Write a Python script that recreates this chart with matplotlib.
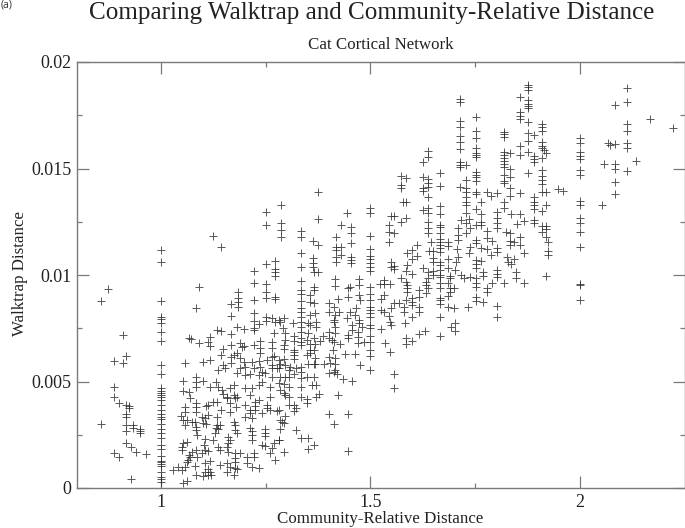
import numpy as np
import matplotlib
matplotlib.use("Agg")
import matplotlib.pyplot as plt
from matplotlib.ticker import FixedLocator, FixedFormatter

# All pairs: (community-relative distance, walktrap distance x 1e-4)
left_outliers = [(.874,93.4),(.857,87.6),(.908,71.7),(.888,59.5),(.908,58.8),(.916,62.0),(.888,47.6),(.888,42.7),(.900,39.8),(.916,39.0),(.923,38.5),(.923,37.4),(.916,34.6),(.916,33.5),(.857,30.0),(.916,29.6),(.916,26.8),(.932,29.6),(.932,28.0),(.950,27.7),(.950,26.8),(.950,25.8),(.916,21.3),(.928,19.4),(.940,16.7),(.964,16.0),(.888,16.4),(.900,14.7),(.928,4.2)]
column_one_y = [111.8,106.2,87.6,80.3,79.2,77.6,73.2,69.2,57.6,53.4,46.8,45.7,44.8,43.7,42.6,41.3,39.0,36.6,34.7,33.2,32.2,30.0,27.5,25.7,23.3,20.2,18.2,15.0,12.8,12.1,11.3,10.5,7.4,5.3,4.1,3.0]
band_a = [(1.091,94.5),(1.083,84.4),(1.056,58.8),(1.052,50.2),(1.052,45.7),(1.066,45.2),(1.068,42.1),(1.057,37.9),(1.057,35.8),(1.047,34.0),(1.053,31.9),(1.061,31.9),(1.057,29.6),(1.029,8.5),(1.041,10.0),(1.049,8.5),(1.057,10.0),(1.061,12.1),(1.065,13.1),(1.052,2.5),(1.061,3.4),(1.051,17.8),(1.049,19.4),(1.053,21.3),(1.061,21.8),(1.067,70.6),(1.071,69.8),(1.091,67.9),(1.111,68.7),(1.117,71.1),(1.117,66.8),(1.133,74.2),(1.143,73.6),(1.167,72.3),(1.167,67.0),(1.149,65.1),(1.143,62.4),(1.117,60.1),(1.100,59.3),(1.137,55.4),(1.149,57.7),(1.153,56.2),(1.167,61.3),(1.167,58.8),(1.173,62.4),(1.181,63.2),(1.189,60.9),(1.197,59.3),(1.189,56.2),(1.201,57.0),(1.181,53.8),(1.201,53.1),(1.213,53.4),(1.189,68.2),(1.193,66.4),(1.198,66.7),(1.167,80.9),(1.167,86.2),(1.183,91.9),(1.183,89.0),(1.183,87.2),(1.183,85.1),(1.181,75.4),(1.198,74.5),(1.222,101.9),(1.222,96.4),(1.222,88.3),(1.222,82.0),(1.222,78.6),(1.222,75.0),(1.222,74.2),(1.234,77.0),(1.250,95.8),(1.250,92.2),(1.250,89.0),(1.250,80.4),(1.250,78.6),(1.265,79.7),(1.273,78.1),(1.281,78.9),(1.273,101.6),(1.273,99.5),(1.273,89.8),(1.273,88.7),(1.221,67.1),(1.237,69.2),(1.237,65.6),(1.237,63.5),(1.269,72.6),(1.265,68.7),(1.265,65.6),(1.269,62.1),(1.265,61.3),(1.253,60.1),(1.233,59.8),(1.217,59.3),(1.221,56.2),(1.237,57.0),(1.241,54.6),(1.233,53.1),(1.265,57.7),(1.265,56.2),(1.281,60.1),(1.281,56.2),(1.249,54.1),(1.241,49.9),(1.233,48.4),(1.265,52.3),(1.261,47.3),(1.281,49.1),(1.261,42.9),(1.233,41.3),(1.253,39.0),(1.253,37.4),(1.241,35.1),(1.225,40.5),(1.225,38.5),(1.278,36.3),(1.261,36.6),(1.225,36.6),(1.201,46.8),(1.217,46.8),(1.213,43.7),(1.201,39.0),(1.213,36.6),(1.201,33.5),(1.213,35.1),(1.217,32.7),(1.213,28.0),(1.217,26.8),(1.249,27.5),(1.249,25.7),(1.249,24.4),(1.217,24.9),(1.217,22.5),(1.269,21.0),(1.281,22.5),(1.265,18.6),(1.261,16.6),(1.241,20.2),(1.249,19.7),(1.221,16.3),(1.221,14.7),(1.205,14.7),(1.205,11.6),(1.217,10.0),(1.235,9.2),(1.273,13.1)]
band_a_mid = [(1.084,52.3),(1.084,49.9),(1.084,47.6),(1.100,50.4),(1.117,47.6),(1.132,49.9),(1.137,47.6),(1.145,46.0),(1.147,44.1),(1.157,42.9),(1.173,48.4),(1.165,46.8),(1.173,43.7),(1.181,42.9),(1.157,42.1),(1.165,39.8),(1.177,42.1),(1.179,38.2),(1.165,35.8),(1.143,36.6),(1.133,40.5),(1.124,40.5),(1.108,38.5),(1.113,39.0),(1.084,40.1),(1.084,37.9),(1.084,35.8),(1.073,31.1),(1.081,31.1),(1.084,28.8),(1.084,27.2),(1.097,33.5),(1.105,32.7),(1.101,30.7),(1.108,30.0),(1.113,34.3),(1.133,33.5),(1.133,29.6),(1.141,29.6),(1.132,28.0),(1.129,25.7),(1.137,27.5),(1.085,24.9),(1.104,23.0),(1.125,22.5),(1.161,24.1),(1.165,22.5),(1.161,21.0),(1.173,31.1),(1.177,29.6),(1.177,27.2),(1.181,25.7),(1.084,17.8),(1.105,17.8),(1.111,17.4),(1.073,17.1),(1.067,15.5),(1.085,14.7),(1.069,14.7),(1.097,16.3),(1.103,20.2),(1.137,19.4),(1.141,17.8),(1.157,19.4),(1.161,17.1),(1.177,16.3),(1.189,16.3),(1.177,13.9),(1.177,12.4),(1.157,11.6),(1.141,10.8),(1.117,12.8),(1.105,11.6),(1.081,10.5),(1.105,7.7),(1.113,8.8),(1.117,7.7),(1.101,5.6),(1.113,6.1),(1.119,6.1),(1.084,6.1),(1.157,7.7),(1.165,10.0),(1.177,9.2),(1.175,6.1),(1.181,8.8)]
band_b = [(1.294,17.1),(1.281,22.5),(1.352,18.3),(1.364,20.2),(1.334,23.6),(1.352,23.6),(1.322,27.2),(1.285,27.5),(1.289,31.1),(1.294,30.4),(1.285,31.9),(1.297,34.0),(1.305,39.0),(1.318,39.0),(1.323,37.4),(1.318,36.2),(1.281,36.6),(1.334,42.9),(1.348,41.8),(1.348,40.1),(1.376,44.0),(1.371,42.6),(1.422,43.7),(1.400,34.6),(1.446,34.7),(1.412,30.2),(1.446,17.5),(1.293,44.8),(1.297,43.7),(1.305,42.9),(1.285,46.0),(1.293,48.8),(1.305,47.6),(1.334,47.6),(1.360,48.4),(1.370,48.4),(1.285,52.0),(1.297,52.3),(1.305,52.0),(1.317,53.4),(1.334,51.8),(1.348,52.0),(1.364,52.0),(1.334,54.6),(1.334,56.7),(1.321,56.2),(1.305,55.4),(1.309,57.0),(1.297,57.7),(1.285,58.2),(1.277,56.2),(1.293,60.4),(1.317,60.4),(1.318,64.0),(1.317,62.4),(1.348,62.4),(1.355,63.2),(1.368,60.9),(1.368,58.1),(1.352,58.1),(1.364,58.1),(1.388,58.1),(1.400,61.3),(1.416,60.9),(1.404,58.5),(1.416,58.1),(1.416,55.4),(1.400,53.8),(1.412,54.6),(1.420,53.4),(1.435,51.2),(1.455,50.4),(1.474,57.7),(1.440,62.8),(1.462,62.8),(1.410,64.8),(1.364,64.8),(1.355,64.8),(1.318,64.8),(1.293,65.1),(1.294,67.1),(1.297,69.5),(1.291,75.0),(1.297,72.6),(1.317,71.4),(1.317,69.2),(1.334,70.3),(1.334,68.7),(1.334,67.1),(1.348,69.5),(1.364,70.3),(1.355,67.6),(1.367,67.6),(1.380,69.2),(1.386,71.5),(1.400,73.4),(1.400,70.3),(1.416,75.4),(1.416,72.6),(1.408,69.5),(1.412,68.7),(1.428,67.6),(1.446,71.8),(1.446,70.3),(1.455,76.5),(1.456,74.2),(1.470,73.4),(1.470,70.7),(1.484,68.7),(1.470,67.9),(1.480,75.4),(1.472,78.9),(1.472,77.6),(1.444,79.7),(1.452,82.8),(1.464,81.2),(1.416,81.2),(1.412,85.1),(1.400,87.0),(1.424,82.8),(1.400,82.8),(1.412,78.9),(1.412,77.8),(1.368,82.0),(1.370,78.1),(1.370,75.7),(1.355,81.2),(1.352,77.3),(1.352,72.6),(1.334,97.2),(1.334,93.0),(1.334,91.1),(1.334,88.0),(1.334,84.4),(1.334,82.8),(1.334,80.4),(1.334,78.1),(1.334,75.7),(1.334,73.4),(1.355,90.6),(1.355,87.5),(1.364,86.7),(1.364,94.2),(1.364,93.0),(1.356,76.5),(1.293,79.7),(1.285,78.1),(1.315,77.6),(1.364,101.6),(1.375,101.6),(1.416,98.1),(1.416,95.0),(1.422,88.7),(1.472,98.1),(1.472,95.3),(1.452,94.5),(1.446,93.7),(1.446,89.8),(1.472,90.6),(1.474,88.3),(1.466,84.7),(1.5,76.5),(1.5,75.0),(1.5,71.5),(1.5,68.7),(1.5,64.8),(1.5,62.0),(1.5,55.4),(1.526,74.7),(1.534,68.2),(1.546,63.7),(1.556,53.4),(1.556,47.1),(1.584,70.6),(1.584,67.6),(1.600,69.2),(1.616,72.1),(1.631,73.7),(1.667,71.5),(1.701,77.6),(1.693,75.4),(1.701,73.7),(1.582,77.6),(1.548,76.5),(1.546,78.1),(1.5,102.0),(1.5,94.3),(1.5,91.2),(1.5,88.4),(1.5,85.0),(1.5,83.4),(1.5,82.2),(1.5,80.4)]
band_c = [(1.375,139.0),(1.286,133.0),(1.250,129.6),(1.445,129.3),(1.500,131.3),(1.500,129.0),(1.375,126.5),(1.250,123.5),(1.429,123.5),(1.454,122.4),(1.286,124.6),(1.286,121.1),(1.286,118.0),(1.334,120.8),(1.334,118.0),(1.454,119.9),(1.124,118.5),(1.143,113.3),(1.363,116.1),(1.375,114.2),(1.417,117.7),(1.454,115.2),(1.500,118.3),(1.417,113.3),(1.429,113.3),(1.417,111.7),(1.429,109.4),(1.417,108.6),(1.417,106.1),(1.500,112.1),(1.500,109.1),(1.500,107.5),(1.500,105.8),(1.500,103.9),(1.454,108.3),(1.454,107.0),(1.454,105.5),(1.363,107.8),(1.363,105.5),(1.363,103.6),(1.334,110.3),(1.334,103.8),(1.273,106.4),(1.273,102.7),(1.250,105.0)]
band_d = [(1.876,189.2),(1.876,188.1),(1.876,186.9),(1.858,183.7),(1.876,182.2),(1.876,180.3),(1.876,179.3),(1.876,178.3),(1.858,176.7),(1.858,174.8),(1.858,173.2),(1.876,172.0),(1.714,182.6),(1.714,181.4),(1.714,172.5),(1.714,169.3),(1.714,165.4),(1.714,162.3),(1.714,159.0),(1.751,174.3),(1.751,167.8),(1.751,164.2),(1.751,159.5),(1.751,157.4),(1.751,156.3),(1.751,155.2),(1.751,148.5),(1.751,147.0),(1.751,145.9),(1.751,144.3),(1.751,139.1),(1.751,138.0),(1.819,167.3),(1.819,166.2),(1.819,165.0),(1.819,157.9),(1.819,156.3),(1.819,154.8),(1.819,153.7),(1.819,152.1),(1.819,150.6),(1.819,147.0),(1.819,144.3),(1.819,143.0),(1.876,166.5),(1.891,165.7),(1.876,162.8),(1.858,160.4),(1.833,157.1),(1.858,156.2),(1.876,157.6),(1.891,155.9),(1.891,154.3),(1.891,153.2),(1.714,153.2),(1.714,151.6),(1.714,150.6),(1.729,151.6),(1.833,149.6),(1.876,148.0),(1.833,145.9),(1.729,144.6),(1.637,158.2),(1.637,155.2),(1.637,145.1),(1.637,143.0),(1.637,141.5),(1.637,136.8),(1.625,152.9),(1.625,145.9),(1.625,140.7),(1.625,139.6),(1.667,147.7),(1.667,141.8),(1.572,146.5),(1.572,142.3),(1.572,140.7),(1.584,145.4),(1.714,141.5),(1.729,140.7),(1.729,139.1),(1.729,136.8),(1.779,139.1),(1.787,137.1),(1.801,138.7),(1.833,140.7),(1.833,137.1),(1.858,138.7),(1.891,136.5)]
band_e = [(1.577,134.1),(1.586,134.1),(1.625,130.5),(1.637,131.3),(1.637,129.3),(1.667,132.6),(1.667,128.6),(1.584,126.9),(1.572,124.7),(1.548,127.9),(1.556,127.9),(1.545,123.5),(1.545,120.3),(1.556,119.6),(1.545,115.7),(1.637,124.7),(1.637,121.9),(1.637,119.9),(1.667,123.5),(1.667,122.4),(1.667,119.6),(1.667,116.9),(1.667,115.7),(1.667,114.1),(1.667,112.5),(1.667,111.0),(1.685,115.7),(1.685,113.8),(1.645,115.7),(1.639,111.4),(1.649,111.3),(1.649,107.8),(1.649,106.3),(1.612,114.1),(1.600,111.7),(1.588,110.5),(1.600,107.4),(1.612,109.1),(1.588,104.7),(1.548,105.9),(1.556,104.2),(1.556,102.7),(1.548,103.6),(1.584,102.0),(1.600,100.3),(1.625,103.1),(1.637,101.6),(1.649,101.9),(1.649,100.0),(1.637,98.4),(1.632,96.9),(1.632,95.3),(1.637,93.7),(1.632,91.4),(1.616,93.0),(1.572,98.4),(1.584,96.9),(1.588,95.3),(1.588,93.7),(1.588,92.2),(1.533,97.7),(1.522,95.8),(1.533,95.8),(1.546,95.8),(1.533,90.6),(1.524,88.6),(1.556,86.7),(1.548,84.4),(1.584,88.3),(1.568,86.7),(1.580,85.1),(1.600,89.0),(1.600,87.5),(1.600,85.9),(1.616,89.8),(1.617,85.1),(1.617,82.8),(1.600,80.4),(1.580,82.8),(1.526,83.6),(1.533,82.8),(1.544,80.8),(1.667,106.3),(1.667,104.7),(1.667,102.4),(1.667,100.0),(1.667,98.9),(1.667,96.1),(1.667,93.7),(1.667,89.0),(1.667,88.3),(1.667,86.4),(1.667,80.4),(1.685,103.1),(1.685,107.4),(1.690,99.5),(1.690,98.4),(1.702,102.4),(1.709,108.6),(1.703,106.3),(1.707,112.1),(1.737,113.0),(1.735,110.5),(1.751,115.2),(1.751,116.4),(1.765,112.5),(1.779,112.1),(1.787,109.4),(1.801,112.5),(1.801,110.6),(1.685,96.1),(1.691,93.7),(1.691,92.2),(1.699,93.7),(1.685,90.1),(1.685,84.8),(1.699,84.4),(1.734,84.8),(1.751,89.5),(1.751,87.8),(1.769,87.2),(1.801,85.6),(1.801,80.4),(1.715,100.0),(1.723,98.4),(1.737,98.9),(1.751,107.0),(1.751,105.2),(1.751,103.1),(1.765,106.7),(1.769,101.6),(1.769,99.5),(1.751,98.4),(1.751,96.1),(1.751,94.5),(1.779,93.7),(1.779,92.2),(1.789,96.1),(1.801,102.4),(1.801,100.5),(1.801,98.9),(1.819,96.4),(1.867,96.1),(1.847,101.6),(1.847,98.4),(1.825,108.6),(1.828,106.3),(1.843,107.4),(1.835,105.2),(1.867,110.2),(1.709,121.9),(1.709,118.8),(1.709,116.4),(1.715,125.8),(1.735,126.1),(1.729,124.3),(1.737,121.9),(1.727,119.6),(1.751,123.5),(1.765,125.0),(1.765,123.5),(1.779,120.8),(1.779,117.2),(1.791,116.1),(1.801,129.7),(1.801,126.6),(1.801,124.3),(1.801,121.9),(1.823,120.0),(1.833,119.6),(1.833,116.1),(1.833,114.1),(1.843,115.7),(1.857,117.7),(1.857,114.1),(1.851,123.8),(1.867,125.4),(1.835,128.6),(1.857,128.6),(1.891,134.4),(1.891,132.9),(1.891,130.8),(1.891,125.8),(1.891,124.3),(1.819,134.4),(1.819,131.3),(1.765,134.1),(1.751,131.0),(1.765,128.6),(1.729,134.4),(1.729,132.9),(1.729,129.0)]
band_f = [(2.112,187.6),(2.112,181.1),(2.084,179.7),(2.168,173.1),(1.910,170.9),(1.910,169.3),(1.910,167.8),(2.223,169.0),(2.112,170.9),(2.112,167.8),(2.000,164.5),(2.000,162.1),(2.068,162.1),(2.072,160.9),(2.084,161.4),(2.112,161.8),(2.112,159.6),(1.910,162.6),(1.910,160.6),(1.910,159.5),(1.915,158.7),(1.918,157.4),(2.000,157.8),(2.000,156.0),(2.000,154.5),(1.910,154.8),(2.135,153.5),(2.058,152.1),(2.084,152.1),(2.084,149.8),(2.000,149.3),(2.000,147.1),(2.112,148.7),(1.910,149.3),(1.910,146.5),(1.910,144.6),(1.910,142.7),(2.084,143.8),(2.084,138.2),(1.910,139.1),(1.918,138.8),(1.948,140.5),(1.960,139.3),(2.053,132.9),(2.000,134.9),(2.000,132.9),(1.910,130.2),(1.918,132.9),(2.000,126.8),(2.000,124.3),(2.000,120.0),(1.910,123.2),(1.918,123.2),(1.910,120.3),(1.918,121.4),(1.918,117.7),(1.924,115.7),(1.924,111.3),(1.924,109.4),(2.000,113.0),(1.918,99.5),(2.000,95.8),(2.000,95.2),(2.000,88.3)]

title_text = "Comparing Walktrap and Community-Relative Distance"
subtitle_text = "Cat Cortical Network"
x_label = "Community-Relative Distance"
y_label = "Walktrap Distance"
x_ticks = [1, 1.5, 2]
x_tick_labels = ["1", "1.5", "2"]
y_ticks = [0, 0.005, 0.01, 0.015, 0.02]
y_tick_labels = ["0", "0.005", "0.01", "0.015", "0.02"]

W, H = 685, 528
plt.rcParams["font.family"] = ["Liberation Serif", "DejaVu Serif"]
fig = plt.figure(figsize=(W / 100, H / 100), dpi=100, facecolor="white")
ax = fig.add_axes([77.3 / W, 1 - 488 / H, (684.6 - 77.3) / W, (488 - 62) / H])

pairs = left_outliers + [(1.0, v) for v in column_one_y] + band_a + band_a_mid + band_b + band_c + band_d + band_e + band_f
xs = np.array([p[0] for p in pairs])
ys = np.array([p[1] for p in pairs]) * 1e-4
ax.plot(xs, ys, linestyle="none", marker="+", markersize=5.6, markeredgewidth=0.7,
        color="#2e2e2e", alpha=0.8, clip_on=True)

ax.set_xlim(0.8, 2.25)
ax.set_ylim(0, 0.02)
ax.xaxis.set_major_locator(FixedLocator(x_ticks))
ax.xaxis.set_major_formatter(FixedFormatter(x_tick_labels))
ax.yaxis.set_major_locator(FixedLocator(y_ticks))
ax.yaxis.set_major_formatter(FixedFormatter(y_tick_labels))
ax.xaxis.set_minor_locator(FixedLocator([1.25, 1.75]))
ax.yaxis.set_minor_locator(FixedLocator([0.0025, 0.0075, 0.0125, 0.0175]))
gray = "#7a7a7a"
ax.tick_params(which="major", direction="in", top=True, right=True, length=8.8, width=0.9,
               color=gray, labelsize=13, labelcolor="#222222", pad=4)
ax.tick_params(which="minor", direction="in", top=True, right=True, length=3.8, width=0.9, color=gray)
for s in ax.spines.values():
    s.set_color(gray)
    s.set_linewidth(1.0)

fig.text(371.5 / W, 1 - 13 / H, title_text, ha="center", va="center", fontsize=18.1, color="#222222")
fig.text(381 / W, 1 - 45 / H, subtitle_text, ha="center", va="center", fontsize=12.2, color="#222222")
fig.text(380 / W, 1 - 519 / H, x_label, ha="center", va="center", fontsize=12.15, color="#222222")
fig.text(20 / W, 1 - 274 / H, y_label, ha="center", va="center", rotation=90, fontsize=12.15, color="#222222")
fig.text(1 / W, 1 - 5 / H, "(a)", ha="left", va="center", fontsize=7.5, family="Open Sans", color="#333333")

fig.savefig("out.png", dpi=100)
